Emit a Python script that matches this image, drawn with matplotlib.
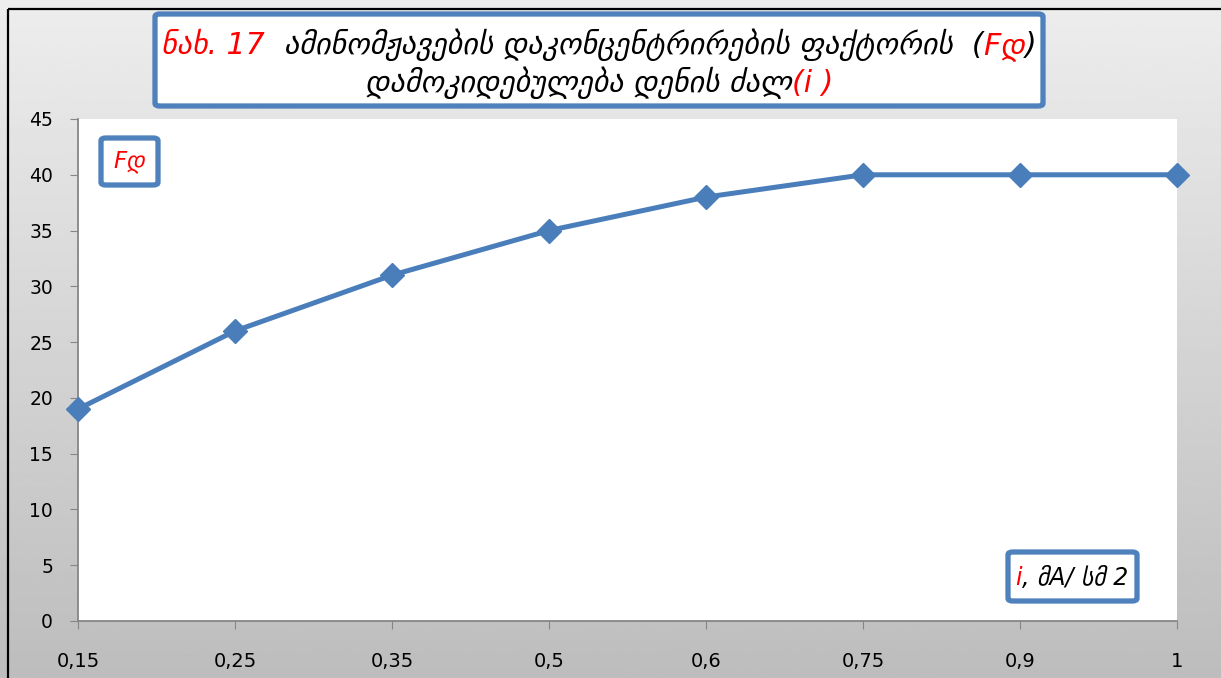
import matplotlib
matplotlib.use('Agg')
import matplotlib.pyplot as plt
import numpy as np
from matplotlib.patches import FancyBboxPatch
from matplotlib.lines import Line2D

# ---- data ----
current_labels = ['0,15', '0,25', '0,35', '0,5', '0,6', '0,75', '0,9', '1']
factor_values = [19, 26, 31, 35, 38, 40, 40, 40]
y_ticks = list(range(0, 50, 5))

title_line1 = [('ნახ. 17', 'red'),
               ('  ამინომჟავების დაკონცენტრირების ფაქტორის  (', 'black'),
               ('Fდ', 'red'), (')', 'black')]
title_line2 = [('დამოკიდებულება დენის ძალ', 'black'), ('(i )', 'red')]
y_label_pieces = [('Fდ', 'red')]
x_label_pieces = [('i', 'red'), (', მA/ სმ 2', 'black')]

W, H = 1221, 678
LINE_COLOR = '#4a7ebb'
BOX_COLOR = '#4f81bd'
GEO_FONT = ['DejaVu Sans']


def fx(px):
    return px / W


def fy(py):
    return 1 - py / H


def rich_line(fig, x_center_px, y_px, pieces, **kw):
    """Draw coloured text pieces side by side, centred on x_center_px."""
    renderer = fig.canvas.get_renderer()
    texts, widths = [], []
    for s, c in pieces:
        t = fig.text(0, fy(y_px), s, color=c, va='baseline', ha='left', **kw)
        widths.append(t.get_window_extent(renderer).width)
        texts.append(t)
    x = x_center_px - sum(widths) / 2
    for t, w in zip(texts, widths):
        t.set_x(fx(x))
        x += w


def box(fig, x0, y0, x1, y1):
    p = FancyBboxPatch((fx(x0), fy(y1)), fx(x1) - fx(x0), fy(y0) - fy(y1),
                       boxstyle='round,pad=0,rounding_size=0.004',
                       transform=fig.transFigure, facecolor='white',
                       edgecolor=BOX_COLOR, linewidth=3.8, zorder=5)
    fig.add_artist(p)


fig = plt.figure(figsize=(W / 100, H / 100), dpi=100)

# gradient background
bg = fig.add_axes([0, 0, 1, 1], zorder=-10)
grad = np.linspace(0.93, 0.74, 256).reshape(-1, 1)
bg.imshow(grad, cmap='gray', vmin=0, vmax=1, aspect='auto',
          extent=[0, 1, 0, 1])
bg.set_axis_off()

# chart border (only top and left are inside the crop)
fig.add_artist(Line2D([fx(8), fx(8)], [fy(9), 0], transform=fig.transFigure,
                      color='black', linewidth=1.6, solid_capstyle='butt'))
fig.add_artist(Line2D([fx(8), 1.01], [fy(9), fy(9)], transform=fig.transFigure,
                      color='black', linewidth=1.6, solid_capstyle='butt'))

ax = fig.add_axes([fx(78), fy(621), fx(1177) - fx(78), fy(119) - fy(621)])
ax.set_facecolor('white')
x = np.arange(len(factor_values))
ax.plot(x, factor_values, '-', color=LINE_COLOR, linewidth=3.6,
        marker='D', markersize=12, markeredgecolor=LINE_COLOR,
        clip_on=False, zorder=3)

ax.set_xlim(0, len(factor_values) - 1)
ax.set_ylim(0, 45)
ax.set_yticks(y_ticks)
ax.set_xticks(x)
ax.set_xticklabels(current_labels,
                   fontfamily=['Liberation Sans Narrow', 'DejaVu Sans'],
                   fontsize=14)
ax.tick_params(axis='y', labelsize=13.5, length=6, color='#868686', pad=12)
ax.tick_params(axis='x', length=6, color='#868686', pad=16)
for side in ('top', 'right'):
    ax.spines[side].set_visible(False)
for side in ('left', 'bottom'):
    ax.spines[side].set_color('#868686')
    ax.spines[side].set_linewidth(1.3)

# title box
box(fig, 155, 14, 1043, 106)
rich_line(fig, 599, 54, title_line1, fontsize=21.6, style='italic',
          family=GEO_FONT, zorder=6)
rich_line(fig, 599, 92, title_line2, fontsize=21.6, style='italic',
          family=GEO_FONT, zorder=6)

# axis label boxes
box(fig, 101, 138, 158, 185)
rich_line(fig, 129.5, 168, y_label_pieces, fontsize=16.5, style='italic',
          family=GEO_FONT, zorder=6)
box(fig, 1008, 552, 1137, 601)
rich_line(fig, 1072, 585, x_label_pieces, fontsize=17, style='italic',
          family=GEO_FONT, zorder=6)

fig.savefig('out.png', dpi=100)
